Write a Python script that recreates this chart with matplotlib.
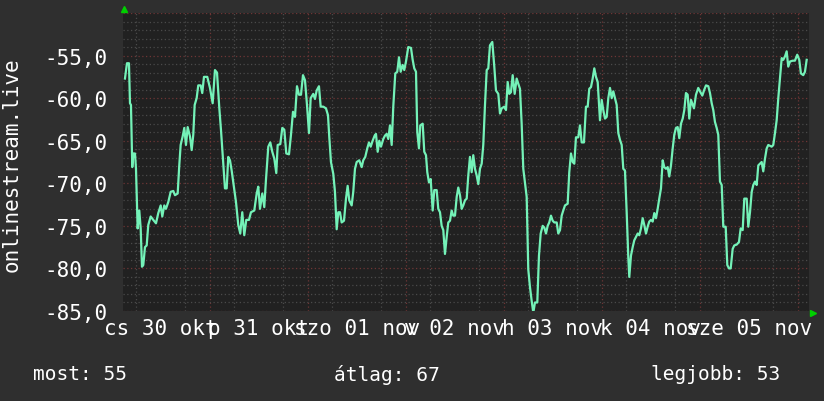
import matplotlib.pyplot as plt
import numpy as np

# --- data (hours since 30 Oct 00:00, signal level) ---
hours = [
    3.18, 3.67, 4.16, 4.41, 4.65, 4.97, 5.22, 5.63, 5.88, 6.29, 6.69, 7.03, 7.35, 7.67,
    8.08, 8.50, 8.89, 9.48, 10.11, 10.78, 11.34, 11.93, 12.32, 12.81, 13.22, 13.79,
    14.38, 15.01, 15.43, 16.09, 16.48, 16.82, 17.31, 17.71, 18.12, 18.54, 19.10, 19.52,
    19.91, 20.25, 20.74, 21.13, 21.72, 22.11, 22.53, 23.34, 24.00, 24.66, 25.22, 25.72,
    26.29,
    26.69, 27.11, 27.67, 28.09, 28.48, 28.90, 29.31, 29.80, 30.37, 30.93, 31.42, 31.91,
    32.40, 32.89, 33.55, 34.04, 34.85, 35.44, 35.83, 36.25, 36.81, 37.30, 37.71, 38.28,
    38.77, 39.26, 39.75, 40.24, 40.58, 41.22, 41.71, 42.20, 42.69, 43.35, 43.84, 44.33,
    44.82, 45.31, 45.80, 46.29, 46.78, 47.27, 47.76, 48.25, 48.66,
    49.30, 49.71, 50.13, 50.69, 51.11, 51.75, 52.41, 52.90, 53.22, 53.63, 54.20, 54.61,
    55.03, 55.42, 55.84, 56.25, 56.82, 57.31, 57.72, 58.11, 58.70, 59.09, 59.51, 59.93,
    60.56, 61.15, 61.54, 62.03, 62.52, 62.94, 63.36, 63.84, 64.33, 64.65, 65.07, 65.46,
    65.88, 66.44, 66.86, 67.27, 67.67, 68.08, 68.50, 68.89, 69.38, 69.87, 70.29, 70.70,
    71.19, 71.58, 72.00, 72.56,
    73.23, 73.64, 74.03, 74.45, 74.77, 75.18, 75.50, 76.09, 76.48, 76.90, 77.22, 77.63,
    78.05, 78.54, 78.93, 79.52, 79.91, 80.33, 80.74, 81.14, 81.55, 81.97, 82.36, 82.78,
    83.19, 83.58, 84.00, 84.42, 84.81, 85.23, 85.64, 86.03, 86.45, 86.87, 87.26, 87.67,
    88.09, 88.48, 88.90, 89.32, 89.71, 90.12, 90.54, 90.93, 91.35, 91.77, 92.16, 92.57,
    93.14, 93.63, 94.04, 94.61, 95.02, 95.44, 96.07,
    96.49, 96.91, 97.30, 97.71, 98.13, 98.62, 99.11, 99.50, 99.92, 100.33, 100.73, 101.14,
    101.56, 101.95, 102.37, 102.78, 103.18, 103.59, 104.16, 104.57, 104.99, 105.48,
    105.87, 106.29, 106.70, 107.09, 107.51, 107.93, 108.32, 108.91, 109.30, 109.72,
    110.13, 110.52, 110.94, 111.60, 111.99, 112.41, 112.83, 113.22, 113.63, 114.20,
    114.61, 115.03, 115.59, 116.08, 116.50, 116.89, 117.31, 117.72, 118.12, 118.53, 118.95,
    119.51, 119.93, 120.32, 120.74, 121.16, 121.55, 121.96, 122.38, 122.77, 123.18,
    123.60, 124.00, 124.41, 124.83, 125.22, 125.63, 126.05, 126.44, 126.69, 127.10,
    127.52, 127.91, 128.33, 128.75, 129.14, 129.55, 129.97, 130.36, 130.78, 131.19,
    131.58, 132.00, 132.42, 132.81, 133.23, 133.64, 134.03, 134.45, 134.87, 135.26,
    135.67, 136.09, 136.48, 136.90, 137.32, 137.71, 138.12, 138.54, 138.93, 139.35,
    139.77, 140.16, 140.57, 140.99, 141.38, 141.80,
    142.53, 143.02, 143.58, 144.00, 144.57, 145.06, 145.47, 146.04, 146.45, 146.87,
    147.26, 147.67, 148.09, 148.48, 148.90, 149.32, 149.71, 150.30, 150.69, 151.11,
    151.52, 152.01, 152.40, 152.99, 153.55, 153.97, 154.46, 154.85, 155.44, 155.83,
    156.25, 156.67, 157.06, 157.47, 157.89, 158.28, 158.70, 159.11, 159.50, 159.92,
    160.34, 160.73, 161.14, 161.56, 161.95, 162.37, 162.78, 163.18, 163.59, 164.01,
    164.40, 164.82, 165.23, 165.62, 166.04, 166.70, 167.25, 167.82, 168.31, 168.72,
    169.29, 169.71, 170.13,
]
values = [
    -57.7, -55.9, -55.9, -60.6, -60.8, -68.1, -66.5, -66.5, -68.3, -75.3, -73.2, -75.3, -79.8, -79.6,
    -77.5, -77.3, -74.9, -73.9, -74.3, -74.7, -73.5, -72.6, -73.9, -72.6, -73.0, -72.2,
    -71.0, -70.9, -71.4, -71.2, -67.9, -65.5, -64.5, -63.5, -65.5, -63.4, -64.5, -66.1,
    -64.3, -60.8, -60.0, -58.5, -58.5, -59.4, -57.5, -57.5, -58.8, -60.6, -56.7, -57.0,
    -61.2,
    -63.7, -66.7, -70.6, -70.6, -66.9, -67.3, -68.5, -70.2, -72.2, -74.9, -75.9, -73.4,
    -76.1, -74.3, -74.3, -73.4, -73.2, -71.2, -70.4, -73.0, -71.2, -72.8, -69.6, -65.7,
    -65.2, -66.3, -67.1, -68.8, -65.5, -65.4, -63.5, -63.7, -66.5, -66.6, -64.3, -61.6,
    -62.2, -58.6, -59.6, -59.6, -57.3, -57.9, -60.8, -64.1, -60.0,
    -59.5, -60.1, -59.1, -58.6, -61.0, -61.0, -61.2, -62.0, -64.6, -67.5, -68.9, -71.0,
    -75.4, -73.4, -73.4, -74.6, -74.4, -71.8, -70.3, -72.0, -72.6, -71.0, -68.3, -67.5,
    -67.3, -68.1, -67.3, -66.9, -65.9, -65.2, -65.7, -65.0, -64.4, -64.2, -66.3, -65.0,
    -65.7, -64.8, -64.4, -64.2, -64.8, -63.2, -65.5, -61.0, -57.1, -56.9, -55.2, -56.9,
    -56.1, -56.7, -55.7, -54.0,
    -54.1, -55.5, -56.5, -56.9, -64.0, -65.9, -63.2, -63.0, -66.3, -66.7, -68.7, -69.9,
    -69.5, -73.2, -70.8, -70.8, -73.0, -73.4, -75.0, -75.5, -78.3, -76.3, -74.6, -74.4,
    -73.2, -73.8, -73.8, -71.6, -70.5, -71.4, -73.0, -72.6, -72.0, -71.8, -69.1, -66.9,
    -68.7, -66.7, -68.3, -69.1, -70.1, -68.3, -67.7, -65.5, -60.8, -56.7, -56.5, -53.8,
    -53.4, -56.3, -59.1, -59.5, -61.8, -61.2, -61.0,
    -61.4, -58.1, -59.5, -59.3, -57.3, -59.5, -57.7, -58.3, -58.9, -63.0, -68.3, -69.9,
    -71.6, -80.1, -82.2, -83.8, -85.2, -84.0, -84.0, -78.5, -75.9, -75.0,
    -75.2, -75.9, -75.0, -74.6, -73.8, -74.4, -74.6, -74.6, -75.9, -75.5,
    -73.8, -73.2, -72.6, -72.4, -68.7, -66.5, -67.5, -67.7, -64.6, -64.6,
    -63.2, -65.2, -65.2, -61.0, -61.0, -58.9, -58.7, -57.7, -56.5, -57.5, -58.1,
    -62.6, -60.2, -61.4, -62.4, -62.2, -60.0, -58.8, -60.0, -59.2, -60.0,
    -60.8, -64.1, -64.9, -65.5, -68.3, -68.5, -73.4, -78.6, -81.0, -78.5,
    -77.5, -76.7, -76.3, -75.9, -76.1, -75.3, -74.1, -74.9, -75.9, -75.1,
    -74.5, -74.3, -74.5, -73.5, -74.1, -73.0, -71.8, -70.6, -67.3, -68.1,
    -68.3, -68.1, -69.2, -67.9, -65.9, -64.3, -63.5, -63.4, -64.7, -63.0,
    -62.4, -61.4, -59.4, -59.6, -62.4, -60.2,
    -61.2, -59.6, -58.8, -59.2, -59.7, -59.0, -58.5, -58.6, -59.4, -60.6,
    -61.4, -62.8, -63.5, -64.3, -69.8, -70.2, -75.1, -75.1, -79.6, -80.0,
    -80.0, -77.7, -77.3, -77.2, -76.9, -75.3, -75.5, -71.8, -71.8, -75.1,
    -73.4, -71.0, -70.2, -69.8, -70.2, -67.9, -67.7, -67.5, -68.6, -67.1,
    -65.9, -65.5, -65.6, -65.7, -65.5, -64.1, -62.6, -60.0, -57.7, -55.3,
    -55.5, -55.1, -54.5, -56.3, -55.7, -55.6, -55.6, -54.9, -55.5, -57.1,
    -57.3, -56.9, -55.5,
]

day_labels = ['cs 30 okt', 'p 31 okt', 'szo 01 nov', 'v 02 nov',
              'h 03 nov', 'k 04 nov', 'sze 05 nov']
label_hours = [12, 36, 60, 84, 108, 132, 156]
y_ticks = [-85, -80, -75, -70, -65, -60, -55]
y_labels = ['-85,0', '-80,0', '-75,0', '-70,0', '-65,0', '-60,0', '-55,0']
stats = [('most:', 55), ('átlag:', 67), ('legjobb:', 53)]

# --- style ---
BG = '#2f2f2f'
PLOT_BG = '#212121'
MINOR = '#4a4a4a'
MAJOR = '#6e3535'
LINE = '#74f2b8'
FONT = 'DejaVu Sans Mono'
plt.rcParams['font.family'] = FONT

fig = plt.figure(figsize=(8.24, 4.02), dpi=100, facecolor=BG)
ax = fig.add_axes([123 / 824, 90 / 402, 686 / 824, 298 / 402])
ax.set_facecolor(PLOT_BG)

ax.set_xlim(2.7, 170.7)
ax.set_ylim(-85, -50)

# grid: minor every 6h / 1 unit, major at midnight / every 5
minor_x = [h for h in range(6, 171, 6) if h % 24]
minor_y = [v for v in range(-84, -49) if v % 5]
ax.set_xticks(minor_x, minor=True)
ax.set_yticks(minor_y, minor=True)
ax.grid(which='minor', color=MINOR, linestyle=(0, (1, 2)), linewidth=0.9)
for d in range(24, 171, 24):
    ax.axvline(d, color=MAJOR, linestyle=(0, (1, 2)), linewidth=0.9, zorder=0.5)
for v in range(-85, -49, 5):
    ax.axhline(v, color=MAJOR, linestyle=(0, (1, 2)), linewidth=0.9, zorder=0.5)

ax.set_xticks(label_hours, day_labels)
ax.set_yticks(y_ticks, y_labels)
ax.tick_params(which='both', length=0, colors='white', labelsize=15)
ax.tick_params(axis='x', pad=5)
ax.tick_params(axis='y', pad=11.5)
for s in ax.spines.values():
    s.set_visible(False)

ax.plot(hours, values, color=LINE, linewidth=1.6, zorder=3)

# rrdtool style axis arrows
ax.plot([0.002], [1.012], marker='^', color='#00d000', markersize=5,
        transform=ax.transAxes, clip_on=False)
ax.plot([1.006], [-0.007], marker='>', color='#00d000', markersize=5,
        transform=ax.transAxes, clip_on=False)

fig.text(12 / 824, 1 - 165 / 402, 'onlinestream.live', rotation=90,
         color='white', fontsize=15, ha='center', va='center')

stat_x = [33 / 824, 334 / 824, 651 / 824]
for (name, val), x in zip(stats, stat_x):
    fig.text(x, 1 - 375 / 402, f'{name} {val}', color='white', fontsize=14,
             ha='left', va='center')

fig.savefig('out.png', dpi=100, facecolor=BG)
